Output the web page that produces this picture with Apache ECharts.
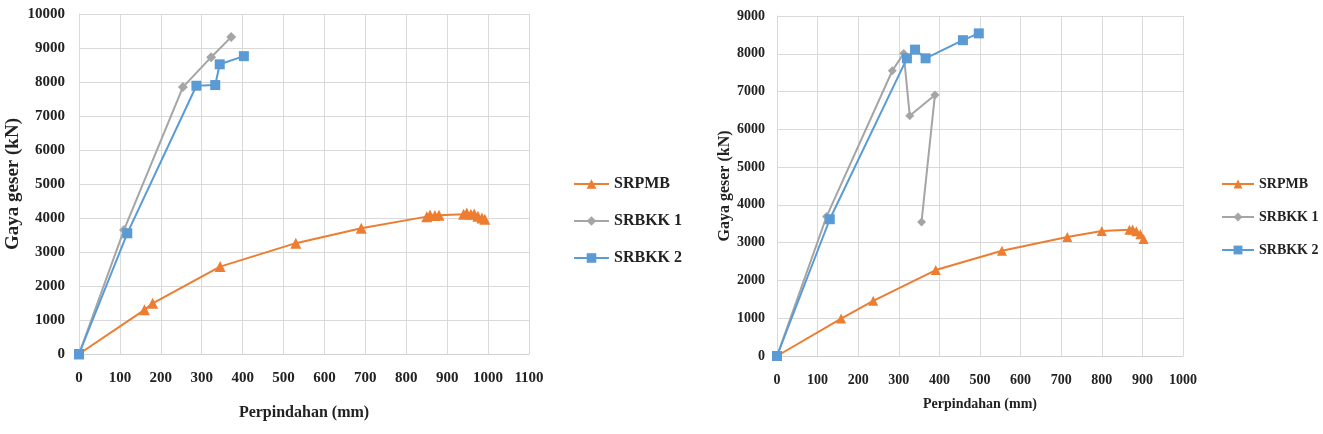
<!DOCTYPE html>
<html><head><meta charset="utf-8">
<script src="https://cdn.jsdelivr.net/npm/echarts@6/dist/echarts.min.js"></script>
<style>html,body{margin:0;padding:0;background:#fff}#c{width:1323px;height:434px}</style>
</head><body><div id="c"></div>
<script>
// Left chart
const L_SRPMB_X = [0, 160, 180, 345, 530, 690, 850, 858, 870, 880, 940, 948, 958, 966, 975, 985, 992];
const L_SRPMB_Y = [0, 1300, 1490, 2570, 3260, 3700, 4040, 4090, 4070, 4080, 4110, 4150, 4110, 4120, 4050, 4000, 3960];
const L_SRBKK1_X = [0, 110, 254, 323, 372];
const L_SRBKK1_Y = [0, 3650, 7850, 8730, 9320];
const L_SRBKK2_X = [0, 118, 287, 333, 344, 403];
const L_SRBKK2_Y = [0, 3550, 7890, 7910, 8520, 8760];
// Right chart
const R_SRPMB_X = [0, 158, 237, 391, 554, 715, 800, 868, 876, 885, 895, 903];
const R_SRPMB_Y = [0, 990, 1460, 2275, 2785, 3150, 3310, 3340, 3350, 3300, 3220, 3100];
const R_SRBKK1_X = [0, 122, 284, 312, 327, 389, 356];
const R_SRBKK1_Y = [0, 3690, 7550, 8010, 6360, 6910, 3550];
const R_SRBKK2_X = [0, 130, 320, 340, 366, 458, 497];
const R_SRBKK2_Y = [0, 3620, 7880, 8110, 7880, 8360, 8540];
const NAMES = ['SRPMB', 'SRBKK 1', 'SRBKK 2'];
const COLORS = ['#ED7D31', '#A5A5A5', '#5B9BD5'];
const SYMBOLS = ['triangle', 'diamond', 'rect'];

const zip = (xs, ys) => xs.map((x, i) => [x, ys[i]]);
const FONT = 'Liberation Serif';
const plain = v => String(v);

function mkX(idx, max, size, gap, nsize) {
  return {
    gridIndex: idx, type: 'value', min: 0, max: max, interval: 100,
    name: 'Perpindahan (mm)', nameLocation: 'middle', nameGap: gap,
    nameTextStyle: {fontFamily: FONT, fontWeight: 'bold', fontSize: nsize, color: '#222'},
    axisLine: {show: true, lineStyle: {color: '#d0d0d0', width: 1}},
    axisTick: {show: false},
    axisLabel: {fontFamily: FONT, fontWeight: 'bold', fontSize: size, color: '#222', margin: 17, formatter: plain},
    splitLine: {show: true, lineStyle: {color: '#d9d9d9', width: 1}}
  };
}
function mkY(idx, max, size, gap, nsize, margin) {
  return {
    gridIndex: idx, type: 'value', min: 0, max: max, interval: 1000,
    name: 'Gaya geser (kN)', nameLocation: 'middle', nameGap: gap, nameRotate: 90,
    nameTextStyle: {fontFamily: FONT, fontWeight: 'bold', fontSize: nsize, color: '#222'},
    axisLine: {show: true, lineStyle: {color: '#d9d9d9', width: 1}},
    axisTick: {show: false},
    axisLabel: {fontFamily: FONT, fontWeight: 'bold', fontSize: size, color: '#222', margin: margin, formatter: plain},
    splitLine: {show: true, lineStyle: {color: '#d9d9d9', width: 1}}
  };
}
function ser(i, gi, data, big) {
  return {
    name: NAMES[i], type: 'line', xAxisIndex: gi, yAxisIndex: gi,
    data: data, symbol: SYMBOLS[i],
    symbolSize: i === 0 ? (big ? 11 : 10) : (i === 1 ? (big ? 10 : 9) : 10),
    lineStyle: {color: COLORS[i], width: 2}, itemStyle: {color: COLORS[i]},
    animation: false
  };
}
const chart = echarts.init(document.getElementById('c'), null, {renderer: 'canvas'});
chart.setOption({
  backgroundColor: '#fff',
  animation: false,
  grid: [
    {left: 79, width: 450, top: 14, height: 340},
    {left: 777, width: 406, top: 16, height: 340}
  ],
  xAxis: [mkX(0, 1100, 15, 51, 16), mkX(1, 1000, 14, 41, 14)],
  yAxis: [mkY(0, 10000, 15, 56, 19, 14), mkY(1, 9000, 14, 43, 16, 12)],
  legend: [
    {orient: 'vertical', left: 568, top: 171, itemWidth: 35, itemHeight: 12, itemGap: 21,
     data: NAMES, textStyle: {fontFamily: FONT, fontWeight: 'bold', fontSize: 16, color: '#222'}},
    {orient: 'vertical', left: 1216, top: 172, itemWidth: 32, itemHeight: 11, itemGap: 19,
     data: NAMES.slice(), textStyle: {fontFamily: FONT, fontWeight: 'bold', fontSize: 14, color: '#222'}}
  ],
  series: [
    ser(0, 0, zip(L_SRPMB_X, L_SRPMB_Y), true),
    ser(1, 0, zip(L_SRBKK1_X, L_SRBKK1_Y), true),
    ser(2, 0, zip(L_SRBKK2_X, L_SRBKK2_Y), true),
    ser(0, 1, zip(R_SRPMB_X, R_SRPMB_Y), false),
    ser(1, 1, zip(R_SRBKK1_X, R_SRBKK1_Y), false),
    ser(2, 1, zip(R_SRBKK2_X, R_SRBKK2_Y), false)
  ]
});
</script></body></html>
